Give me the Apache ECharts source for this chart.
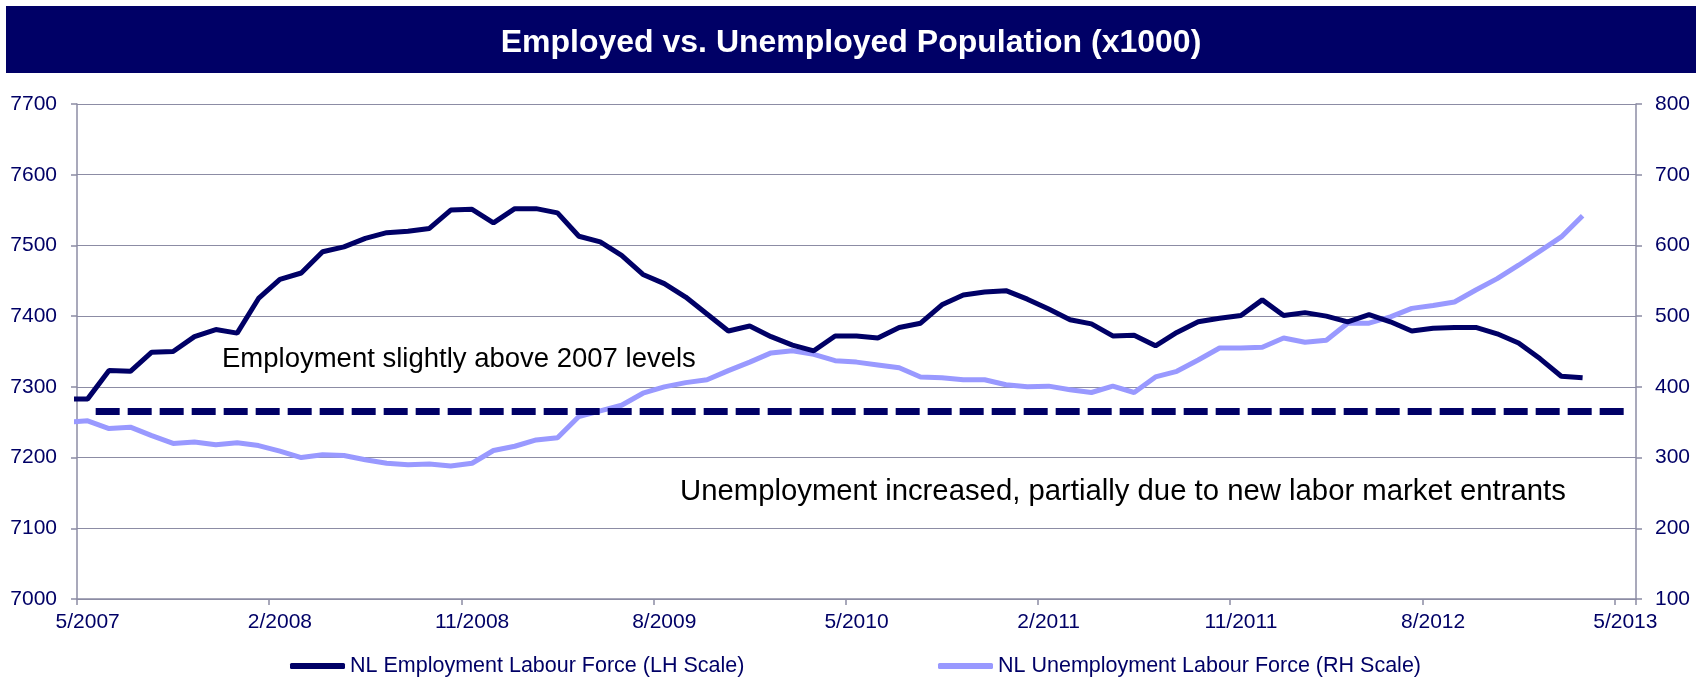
<!DOCTYPE html>
<html>
<head>
<meta charset="utf-8">
<script src="https://cdn.jsdelivr.net/npm/echarts@6/dist/echarts.min.js"></script>
<style>
html,body{margin:0;padding:0;background:#fff;}
#chart{width:1702px;height:677px;}
</style>
</head>
<body>
<div id="chart"></div>
<script>
// Categories: monthly, first entry (4/2007) lies just left of the visible axis range
const months = [
  '4/2007','5/2007','6/2007','7/2007','8/2007','9/2007','10/2007','11/2007','12/2007',
  '1/2008','2/2008','3/2008','4/2008','5/2008','6/2008','7/2008','8/2008','9/2008','10/2008','11/2008','12/2008',
  '1/2009','2/2009','3/2009','4/2009','5/2009','6/2009','7/2009','8/2009','9/2009','10/2009','11/2009','12/2009',
  '1/2010','2/2010','3/2010','4/2010','5/2010','6/2010','7/2010','8/2010','9/2010','10/2010','11/2010','12/2010',
  '1/2011','2/2011','3/2011','4/2011','5/2011','6/2011','7/2011','8/2011','9/2011','10/2011','11/2011','12/2011',
  '1/2012','2/2012','3/2012','4/2012','5/2012','6/2012','7/2012','8/2012','9/2012','10/2012','11/2012','12/2012',
  '1/2013','2/2013','3/2013','4/2013','5/2013'
];
const tickLabels = ['5/2007','2/2008','11/2008','8/2009','5/2010','2/2011','11/2011','8/2012','5/2013'];

const employment = [
  7283, 7283, 7323, 7322, 7349, 7350, 7371, 7381, 7376, 7425, 7452, 7461, 7491, 7498, 7510, 7518, 7520, 7524,
  7550, 7551, 7532, 7552, 7552, 7546, 7513, 7505, 7486, 7459, 7446, 7427, 7403, 7379, 7386, 7371, 7359, 7351,
  7372, 7372, 7369, 7384, 7390, 7416, 7430, 7434, 7436, 7424, 7410, 7395, 7389, 7372, 7373, 7358, 7377, 7392,
  7397, 7401, 7423, 7401, 7405, 7400, 7392, 7402, 7392, 7379, 7383, 7384, 7384, 7375, 7362, 7340, 7315, 7313
];
const unemployment = [
  350, 352, 341, 343, 331, 320, 322, 318, 321, 317, 309, 300, 304, 303, 297, 292, 290, 291,
  288, 292, 310, 316, 325, 328, 358, 366, 374, 391, 400, 406, 410, 423, 435, 448, 451, 446,
  437, 435, 431, 427, 414, 413, 410, 410, 403, 400, 401, 396, 392, 401, 392, 414, 422, 438,
  455, 455, 456, 469, 463, 466, 490, 490, 499, 511, 515, 520, 537, 553, 572, 592, 612, 642
];
const benchmarkLevel = 7266;
const leftTicks = [7000, 7700, 100];
const rightTicks = [100, 800, 100];

const navy = '#000066';
const lilac = '#9999ff';
const gridGray = '#8c8ca4';
const font = "'Liberation Sans', Arial, sans-serif";

const showTick = (idx, val) => tickLabels.indexOf(val) >= 0;

const chart = echarts.init(document.getElementById('chart'), null, {renderer: 'canvas'});
chart.setOption({
  animation: false,
  backgroundColor: '#ffffff',
  title: {
    text: 'Employed vs. Unemployed Population (x1000)',
    left: 'center',
    top: 22,
    textStyle: {color: '#ffffff', fontFamily: font, fontWeight: 'bold', fontSize: 32}
  },
  graphic: [
    {type: 'rect', z: -1, shape: {x: 6, y: 6, width: 1690, height: 67}, style: {fill: navy}},
    {type: 'text', left: 222, top: 345, style: {text: 'Employment slightly above 2007 levels', fill: '#000000', font: "27.5px 'Liberation Sans', Arial, sans-serif"}},
    {type: 'text', left: 680, top: 477, style: {text: 'Unemployment increased, partially due to new labor market entrants', fill: '#000000', font: "29.3px 'Liberation Sans', Arial, sans-serif"}}
  ],
  legend: [
    {data: ['NL Employment Labour Force (LH Scale)'], left: 290, top: 655, padding: 0, icon: 'roundRect', itemWidth: 55, itemHeight: 6,
     textStyle: {color: navy, fontFamily: font, fontSize: 21.5}},
    {data: ['NL Unemployment Labour Force (RH Scale)'], left: 938, top: 655, padding: 0, icon: 'roundRect', itemWidth: 55, itemHeight: 6,
     textStyle: {color: navy, fontFamily: font, fontSize: 21.5}}
  ],
  grid: {left: 77, right: 66, top: 104, bottom: 78, containLabel: false},
  xAxis: {
    type: 'category',
    data: months,
    min: 1,
    max: months.length - 1,
    boundaryGap: true,
    axisLine: {lineStyle: {color: gridGray, width: 1.5}},
    axisTick: {show: true, interval: showTick, length: 6, lineStyle: {color: gridGray, width: 1.5}},
    axisLabel: {interval: showTick, color: navy, fontFamily: font, fontSize: 21, margin: 13},
    splitLine: {show: false}
  },
  yAxis: [
    {
      type: 'value', min: leftTicks[0], max: leftTicks[1], interval: leftTicks[2], position: 'left',
      axisLine: {show: true, lineStyle: {color: gridGray, width: 1.5}},
      axisTick: {show: true, length: 6, lineStyle: {color: gridGray, width: 1.5}},
      axisLabel: {color: navy, fontFamily: font, fontSize: 21, margin: 20, formatter: (v) => String(v)},
      splitLine: {show: true, lineStyle: {color: gridGray, width: 1.2}}
    },
    {
      type: 'value', min: rightTicks[0], max: rightTicks[1], interval: rightTicks[2], position: 'right',
      axisLine: {show: true, lineStyle: {color: gridGray, width: 1.5}},
      axisTick: {show: true, length: 6, lineStyle: {color: gridGray, width: 1.5}},
      axisLabel: {color: navy, fontFamily: font, fontSize: 21, margin: 19, formatter: (v) => String(v)},
      splitLine: {show: false}
    }
  ],
  series: [
    {
      name: 'NL Unemployment Labour Force (RH Scale)',
      type: 'line', yAxisIndex: 1, data: unemployment, symbol: 'none', clip: true, z: 2,
      color: lilac,
      lineStyle: {color: lilac, width: 5}
    },
    {
      name: 'NL Employment Labour Force (LH Scale)',
      type: 'line', yAxisIndex: 0, data: employment, symbol: 'none', clip: true, z: 3,
      color: navy,
      lineStyle: {color: navy, width: 5},
      markLine: {
        silent: true, symbol: 'none', label: {show: false}, z: 4,
        lineStyle: {color: navy, width: 7, type: [24, 8], dashOffset: 24},
        data: [[{coord: ['5/2007', benchmarkLevel]}, {coord: ['5/2013', benchmarkLevel]}]]
      }
    }
  ]
});
</script>
</body>
</html>
